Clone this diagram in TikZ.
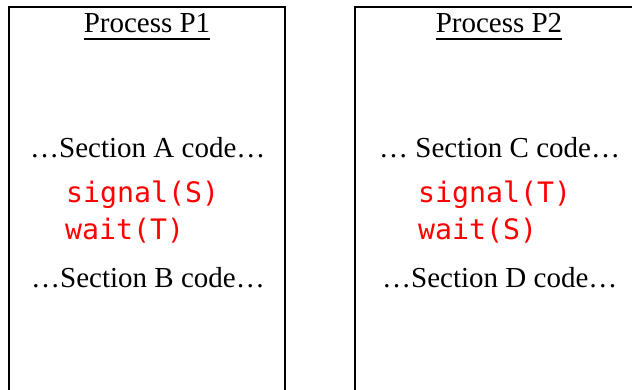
\documentclass[tikz,border=0pt]{standalone}
\usepackage{fontspec}
\setmainfont{Liberation Serif}
\newfontfamily\codefont{DejaVu Sans Mono}
\begin{document}
\begin{tikzpicture}[x=1pt,y=1pt,
  txt/.style={inner sep=0pt,anchor=base west,font=\fontsize{29}{35}\selectfont},
  code/.style={inner sep=0pt,anchor=base west,text=red,font=\codefont\fontsize{28.2}{34}\selectfont},
  title/.style={inner sep=0pt,anchor=base,font=\fontsize{29}{35}\selectfont},
  frame/.style={line width=2pt,black}]
\useasboundingbox (0,0) rectangle (632,390);
\begin{scope}
\clip (0,0) rectangle (632,390);
\coordinate (a1) at (9,-10);
\coordinate (a2) at (9,383);
\coordinate (a3) at (285,383);
\coordinate (a4) at (285,-10);
\draw[frame] (a1) -- (a2) -- (a3) -- (a4);
\coordinate (b1) at (355,-10);
\coordinate (b2) at (355,383);
\coordinate (b3) at (650,383);
\draw[frame] (b1) -- (b2) -- (b3);
\end{scope}
\node[title] (t1) at (147,357) {Process P1};
\draw[line width=1.6pt] ([yshift=-6pt]t1.base west) -- ([yshift=-6pt]t1.base east);
\node[title] (t2) at (499,357) {Process P2};
\draw[line width=1.6pt] ([yshift=-6pt]t2.base west) -- ([yshift=-6pt]t2.base east);
\node[txt] (sa) at (30,232) {…Section A code…};
\node[code] (s1) at (66,187) {signal(S)};
\node[code] (w1) at (65,150) {wait(T)};
\node[txt] (sb) at (31,102) {…Section B code…};
\node[txt] (sc) at (379,232) {… Section C code…};
\node[code] (s2) at (418,187) {signal(T)};
\node[code] (w2) at (418,150) {wait(S)};
\node[txt] (sd) at (382,102) {…Section D code…};
\end{tikzpicture}
\end{document}
